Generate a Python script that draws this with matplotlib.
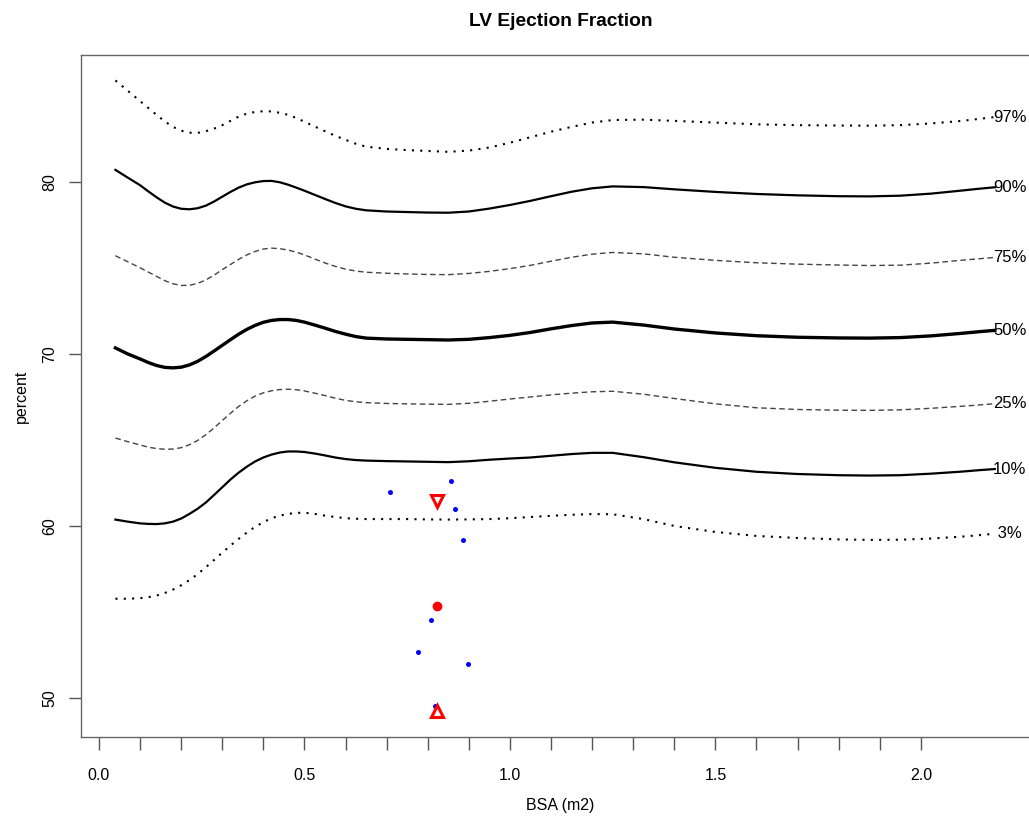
import numpy as np
import matplotlib.pyplot as plt
from matplotlib.ticker import FixedLocator

plt.rcParams['font.family'] = ['Liberation Sans', 'DejaVu Sans']

# BSA grid used for the percentile curves
bsa = [0.04, 0.07, 0.10, 0.12, 0.14, 0.16, 0.18, 0.20, 0.22, 0.24, 0.26, 0.28,
       0.30, 0.32, 0.34, 0.36, 0.38, 0.40, 0.42, 0.44, 0.46, 0.48, 0.50, 0.525,
       0.55, 0.575, 0.60, 0.625, 0.65, 0.70, 0.75, 0.80, 0.85, 0.90, 0.95, 1.00,
       1.05, 1.10, 1.15, 1.20, 1.25, 1.325, 1.40, 1.50, 1.60, 1.70, 1.80, 1.875,
       1.95, 2.025, 2.10, 2.14, 2.18]

p97 = [85.9, 85.3, 84.7, 84.3, 83.9, 83.52, 83.2, 82.98, 82.86, 82.85, 82.95, 83.1,
       83.3, 83.55, 83.8, 83.97, 84.07, 84.11, 84.1, 84.02, 83.9, 83.72, 83.5, 83.22,
       82.95, 82.68, 82.45, 82.22, 82.05, 81.92, 81.85, 81.8, 81.75, 81.82, 82.0, 82.28,
       82.6, 82.92, 83.2, 83.45, 83.6, 83.62, 83.55, 83.45, 83.35, 83.3, 83.28, 83.27,
       83.3, 83.4, 83.55, 83.66, 83.77]
p90 = [80.7, 80.25, 79.81, 79.45, 79.11, 78.8, 78.57, 78.44, 78.41, 78.47, 78.62, 78.86,
       79.14, 79.42, 79.67, 79.86, 79.98, 80.05, 80.06, 79.98, 79.84, 79.67, 79.49, 79.25,
       79.01, 78.78, 78.58, 78.44, 78.35, 78.28, 78.25, 78.22, 78.21, 78.28, 78.45, 78.66,
       78.9, 79.17, 79.43, 79.63, 79.74, 79.7, 79.57, 79.42, 79.3, 79.22, 79.17, 79.16,
       79.2, 79.32, 79.5, 79.6, 79.69]
p75 = [75.71, 75.36, 75.01, 74.76, 74.51, 74.26, 74.08, 73.98, 73.99, 74.1, 74.3, 74.58,
       74.9, 75.2, 75.5, 75.76, 75.96, 76.1, 76.15, 76.12, 76.04, 75.92, 75.76, 75.52,
       75.29, 75.09, 74.93, 74.82, 74.75, 74.69, 74.65, 74.62, 74.61, 74.68, 74.8, 74.96,
       75.15, 75.39, 75.62, 75.8, 75.9, 75.82, 75.62, 75.44, 75.3, 75.22, 75.17, 75.14,
       75.16, 75.28, 75.45, 75.53, 75.61]
p50 = [70.35, 70.0, 69.71, 69.5, 69.33, 69.22, 69.19, 69.23, 69.36, 69.57, 69.85, 70.17,
       70.5, 70.83, 71.15, 71.43, 71.66, 71.84, 71.95, 72.0, 72.0, 71.95, 71.85, 71.68,
       71.5, 71.31, 71.15, 71.01, 70.92, 70.87, 70.85, 70.83, 70.81, 70.85, 70.95, 71.08,
       71.25, 71.46, 71.65, 71.8, 71.85, 71.68, 71.45, 71.22, 71.06, 70.97, 70.93, 70.92,
       70.95, 71.05, 71.2, 71.29, 71.37]
p25 = [65.11, 64.9, 64.71, 64.58, 64.5, 64.46, 64.47, 64.55, 64.72, 64.97, 65.3, 65.7,
       66.13, 66.55, 66.95, 67.28, 67.55, 67.74, 67.86, 67.93, 67.95, 67.92, 67.85, 67.72,
       67.58, 67.43, 67.3, 67.22, 67.17, 67.12, 67.1, 67.08, 67.07, 67.13, 67.25, 67.38,
       67.5, 67.62, 67.72, 67.8, 67.83, 67.66, 67.41, 67.1, 66.87, 66.77, 66.73, 66.72,
       66.75, 66.84, 66.96, 67.03, 67.11]
p10 = [60.37, 60.25, 60.15, 60.12, 60.11, 60.15, 60.25, 60.43, 60.7, 61.0, 61.36, 61.8,
       62.25, 62.7, 63.1, 63.45, 63.75, 63.98, 64.15, 64.27, 64.33, 64.33, 64.3, 64.21,
       64.1, 63.98, 63.89, 63.83, 63.8, 63.77, 63.75, 63.73, 63.71, 63.76, 63.85, 63.92,
       63.98, 64.08, 64.18, 64.25, 64.25, 64.0, 63.7, 63.38, 63.15, 63.02, 62.95, 62.93,
       62.95, 63.04, 63.16, 63.24, 63.31]
p03 = [55.77, 55.77, 55.8, 55.86, 55.95, 56.1, 56.3, 56.55, 56.85, 57.2, 57.6, 58.02,
       58.45, 58.86, 59.25, 59.62, 59.95, 60.22, 60.45, 60.6, 60.7, 60.76, 60.77, 60.7,
       60.6, 60.52, 60.45, 60.42, 60.4, 60.4, 60.4, 60.38, 60.37, 60.38, 60.4, 60.45,
       60.52, 60.59, 60.65, 60.69, 60.68, 60.4, 60.0, 59.65, 59.42, 59.3, 59.22, 59.19,
       59.2, 59.27, 59.38, 59.46, 59.55]

curve_labels = ['97%', '90%', '75%', '50%', '25%', '10%', ' 3%']

# measurements
obs_bsa = [0.708, 0.856, 0.867, 0.887, 0.808, 0.777, 0.898, 0.817]
obs_ef = [61.98, 62.60, 60.99, 59.19, 54.55, 52.66, 51.96, 49.55]
pt_bsa = 0.823
pt_ef = 55.37
pt_hi = 61.47
pt_lo = 49.26

fig = plt.figure(figsize=(10.29, 8.17), dpi=100)
ax = fig.add_axes([0.0787, 0.0979, 0.932, 0.8348])

styles = [
    dict(color='black', lw=1.5, ls=(0, (1, 3))),
    dict(color='black', lw=1.6, ls='-'),
    dict(color='#444444', lw=1.0, ls=(0, (4, 2.5))),
    dict(color='black', lw=2.4, ls='-'),
    dict(color='#444444', lw=1.0, ls=(0, (4, 2.5))),
    dict(color='black', lw=1.6, ls='-'),
    dict(color='black', lw=1.5, ls=(0, (1, 3))),
]
curves = [p97, p90, p75, p50, p25, p10, p03]
for yv, st, lab in zip(curves, styles, curve_labels):
    ax.plot(bsa, yv, solid_joinstyle='round', **st)
    ax.text(bsa[-1] - 0.004, yv[-1], lab, ha='left', va='center', fontsize=12)

ax.plot(obs_bsa, obs_ef, 'o', color='#0000ff', ms=3.6, mec='none')
ax.plot(pt_bsa, pt_ef, 'o', color='#ff0000', ms=7, mec='none')
ax.plot(pt_bsa, pt_hi, 'v', mfc='white', mec='#ff0000', mew=2.2, ms=9)
ax.plot(pt_bsa, pt_lo, '^', mfc='white', mec='#ff0000', mew=2.2, ms=9)

ax.set_xlim(-0.0438, 2.29)
ax.set_ylim(47.73, 87.38)

ax.set_xticks([0.0, 0.5, 1.0, 1.5, 2.0])
ax.set_xticklabels(['0.0', '0.5', '1.0', '1.5', '2.0'])
ax.xaxis.set_minor_locator(FixedLocator(np.round(np.arange(0, 2.01, 0.1), 2)))
ax.set_yticks([50, 60, 70, 80])
ax.set_yticklabels(['50', '60', '70', '80'], rotation=90, va='center')

ax.tick_params(axis='both', which='both', direction='out', length=9, width=1,
               color='#555555', labelsize=11.5)
ax.tick_params(axis='x', pad=13)
ax.tick_params(axis='y', pad=8)

for side in ['left', 'bottom', 'top']:
    ax.spines[side].set_color('#666666')
    ax.spines[side].set_linewidth(1)
ax.spines['right'].set_visible(False)

ax.set_title('LV Ejection Fraction', fontsize=13.8, fontweight='bold', pad=21)
ax.set_xlabel('BSA (m2)', fontsize=11.5, labelpad=11)
ax.set_ylabel('percent', fontsize=11.5, labelpad=10)

fig.savefig('out.png', dpi=100)
